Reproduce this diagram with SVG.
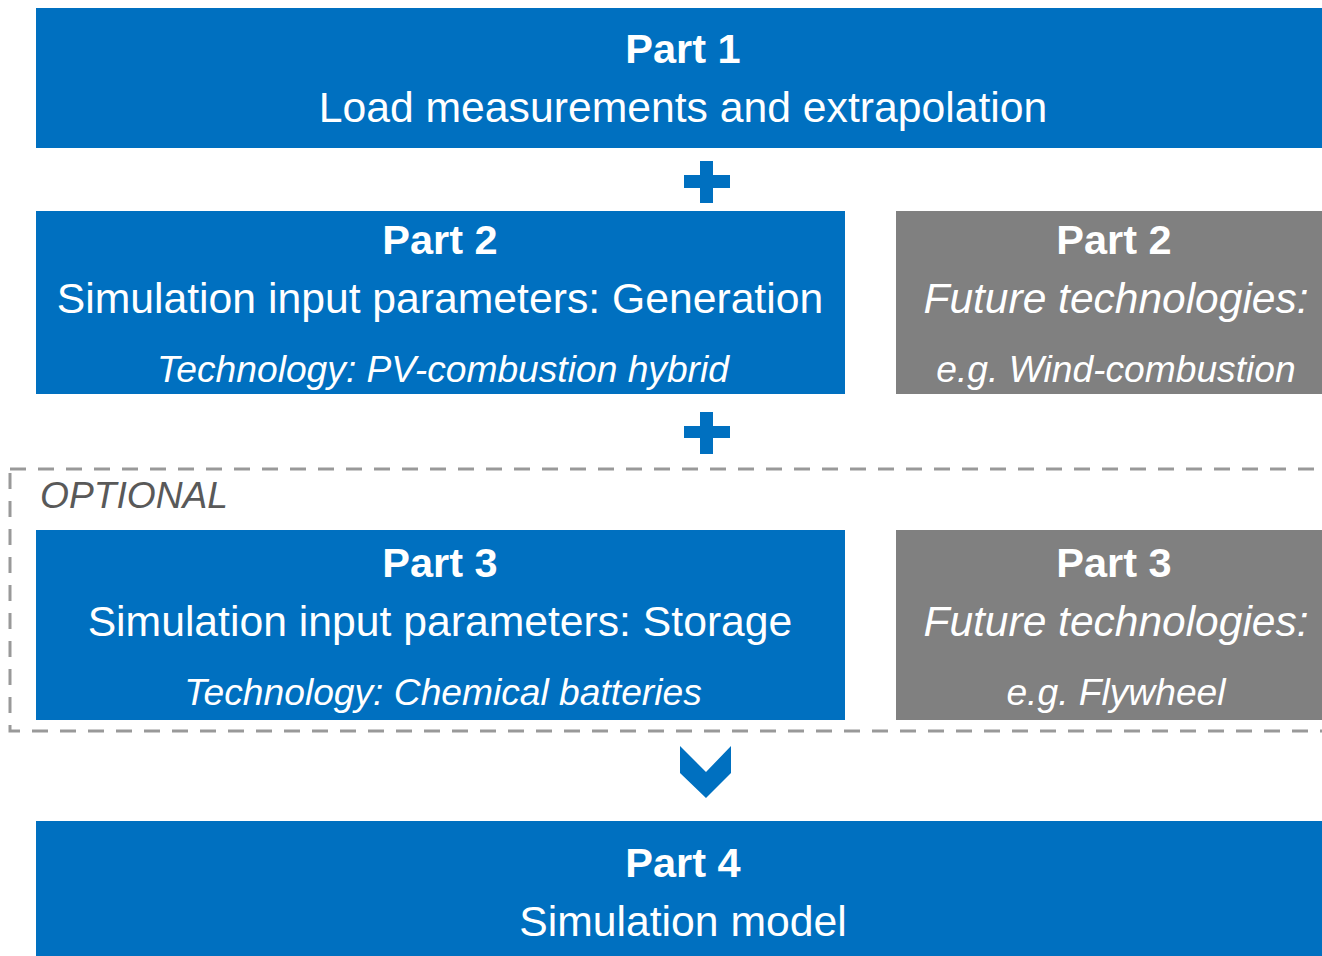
<svg xmlns="http://www.w3.org/2000/svg" width="1322" height="956" viewBox="0 0 1322 956">
<style>
.blue{fill:#0070C0}
.gray{fill:#808080}
text{font-family:"Liberation Sans",Arial,sans-serif;fill:#fff;text-anchor:middle}
.h{font-weight:bold;font-size:41.5px}
.t{font-size:42.7px}
.i{font-style:italic;font-size:37.2px}
.it{font-style:italic;font-size:42.5px}
.opt{font-style:italic;font-size:37.2px;fill:#595959;text-anchor:start}
</style>
<rect width="1322" height="956" fill="#fff"/>
<g id="optional-frame">
<rect x="10" y="469" width="1330" height="262" fill="none" stroke="#999" stroke-width="3" stroke-dasharray="16 12"/>
<text class="opt" x="40" y="508">OPTIONAL</text>
</g>
<g id="part1">
<rect class="blue" x="36" y="8" width="1286" height="140"/>
<text class="h" x="683" y="63">Part 1</text>
<text class="t" x="683" y="122">Load measurements and extrapolation</text>
</g>
<g id="part2">
<rect class="blue" x="36" y="211" width="809" height="183"/>
<text class="h" x="440" y="254">Part 2</text>
<text class="t" x="440" y="313">Simulation input parameters: Generation</text>
<text class="i" x="443" y="382">Technology: PV-combustion hybrid</text>
</g>
<g id="part2-future">
<rect class="gray" x="896" y="211" width="426" height="183"/>
<text class="h" x="1114" y="254">Part 2</text>
<text class="it" x="1116" y="313">Future technologies:</text>
<text class="i" x="1116" y="382">e.g. Wind-combustion</text>
</g>
<g id="part3">
<rect class="blue" x="36" y="530" width="809" height="190"/>
<text class="h" x="440" y="577">Part 3</text>
<text class="t" x="440" y="636">Simulation input parameters: Storage</text>
<text class="i" x="443" y="705">Technology: Chemical batteries</text>
</g>
<g id="part3-future">
<rect class="gray" x="896" y="530" width="426" height="190"/>
<text class="h" x="1114" y="577">Part 3</text>
<text class="it" x="1116" y="636">Future technologies:</text>
<text class="i" x="1116" y="705">e.g. Flywheel</text>
</g>
<g id="part4">
<rect class="blue" x="36" y="821" width="1286" height="135"/>
<text class="h" x="683" y="877">Part 4</text>
<text class="t" x="683" y="936">Simulation model</text>
</g>
<g id="connectors">
<path class="blue" d="M700 161H713V175H730V188H713V203H700V188H684V175H700Z"/>
<path class="blue" d="M700 412H713V426H730V438H713V454H700V438H684V426H700Z"/>
<path class="blue" d="M680 746L706 772L731 746V773L706 798L680 773Z"/>
</g>
</svg>
